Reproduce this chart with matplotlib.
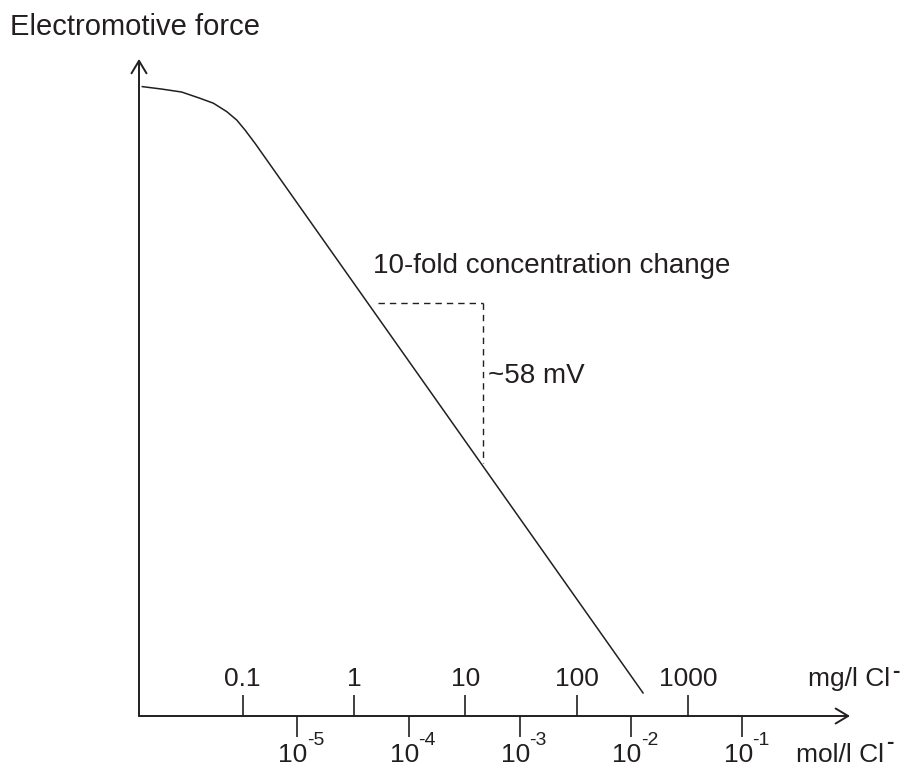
import matplotlib
matplotlib.use("Agg")
import matplotlib.pyplot as plt

plt.rcParams["font.family"] = ["Liberation Sans", "DejaVu Sans"]

INK = "#231f20"

# x = log10(mg/l Cl-), y = electromotive force in mV (relative)
mg_ticks = [-1, 0, 1, 2, 3]
mg_labels = ["0.1", "1", "10", "100", "1000"]
mol_exps = [-5, -4, -3, -2, -1]
mol_offset = 4.49  # shift from log10(mol/l) to log10(mg/l) as drawn

curve_x = [-1.902, -1.728, -1.548, -1.384, -1.264, -1.144, -1.054, -0.979,
           -0.889, -0.784, 2.597]
curve_y = [231.8, 230.9, 229.8, 227.5, 225.7, 222.6, 219.5, 215.8,
           210.9, 204.8, 8.5]

# dashed step: one decade -> ~58 mV
step_x = [0.216, 1.156]
step_y = [152.2, 93.2]

fig = plt.figure(figsize=(9.06, 7.67), dpi=100)
ax = fig.add_axes([0, 0, 1, 1])
ax.set_xlim(-3.181, 4.960)
ax.set_ylim(-18.78, 263.7)
ax.axis("off")

x0 = -1.932
arrow = dict(arrowstyle="->,head_length=0.45,head_width=0.27", lw=1.4,
             color=INK, shrinkA=0, shrinkB=0, mutation_scale=20)
ax.annotate("", xy=(4.457, 0), xytext=(x0, 0), arrowprops=arrow)
ax.annotate("", xy=(x0, 242.0), xytext=(x0, 0), arrowprops=arrow)

# mg/l ticks above, mol/l ticks below
for x, lab in zip(mg_ticks, mg_labels):
    ax.plot([x, x], [0, 7.7], color=INK, lw=1.2, solid_capstyle="butt")
    ax.text(x, 11.0, lab, ha="center", va="baseline", fontsize=19, color=INK)

ybase = -16.9
for e in mol_exps:
    x = e + mol_offset
    ax.plot([x, x], [0, -7.6], color=INK, lw=1.2, solid_capstyle="butt")
    ax.annotate("10", xy=(x, ybase), xytext=(-3, 0), textcoords="offset points",
                ha="center", va="baseline", fontsize=19, color=INK)
    ax.annotate(str(e), xy=(x, ybase), xytext=(7, 12), textcoords="offset points",
                ha="left", va="baseline", fontsize=14, color=INK)

ax.text(4.816, 11.0, "mg/l Cl", ha="right", va="baseline", fontsize=19, color=INK)
ax.text(4.834, 14.4, "-", ha="left", va="baseline", fontsize=16, fontweight="bold", color=INK)
ax.text(4.760, ybase, "mol/l Cl", ha="right", va="baseline", fontsize=19, color=INK)
ax.text(4.778, -11.8, "-", ha="left", va="baseline", fontsize=16, fontweight="bold", color=INK)

ax.plot(curve_x, curve_y, color=INK, lw=1.1, solid_joinstyle="round")

ax.plot(step_x, [step_y[0], step_y[0]], color=INK, lw=1.0, dashes=(4.6, 3.6))
ax.plot([step_x[1], step_x[1]], step_y, color=INK, lw=1.0, dashes=(4.6, 3.6))

ax.text(0.171, 163.2, "10-fold concentration change", ha="left", va="baseline",
        fontsize=20, color=INK)
ax.text(1.204, 122.7, "~58 mV", ha="left", va="baseline", fontsize=20, color=INK)
ax.text(-3.091, 250.8, "Electromotive force", ha="left", va="baseline",
        fontsize=21, color=INK)

fig.savefig("out.png", dpi=100)
